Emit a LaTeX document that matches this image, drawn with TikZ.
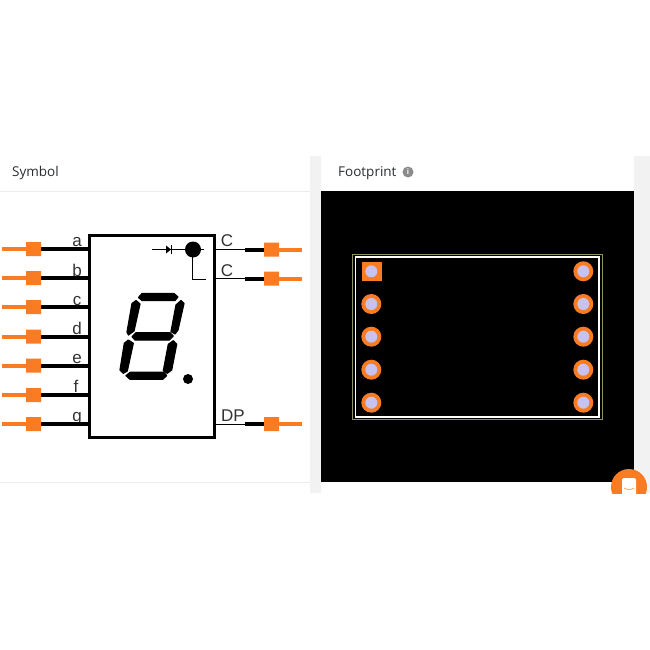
\documentclass[tikz,border=0pt]{standalone}
\usepackage{fontspec}
\setmainfont{Liberation Sans}
\newfontfamily\headfont{Open Sans}
\definecolor{pinorange}{HTML}{F97B22}
\definecolor{holeblue}{HTML}{C8C2F0}
\definecolor{panelgray}{HTML}{F2F2F2}
\definecolor{rulegray}{HTML}{ECECEC}
\definecolor{silkolive}{HTML}{8A9460}
\definecolor{headtext}{HTML}{2A2E33}
\tikzset{
	pinlabel/.style={anchor=base, text=black!80, font=\fontsize{17}{17}\selectfont, inner sep=0pt},
	headlabel/.style={anchor=base west, text=headtext, font=\headfont\fontsize{13.5}{13.5}\selectfont, inner sep=0pt},
	lead/.style={line width=4pt, black},
	tail/.style={line width=4pt, pinorange},
	pad/.style={fill=pinorange, draw=none},
	hole/.style={fill=holeblue, draw=none},
	segment/.style={fill=black, draw=black, line width=1.2pt, line join=round}
}
\begin{document}
\begin{tikzpicture}[x=1pt, y=-1pt]
	\useasboundingbox (0,0) rectangle (650,650);
	% page and panels
	\fill [white] (0,0) rectangle (650,650);
	\fill [panelgray] (310,156) rectangle (321,493) (634,156) rectangle (650,493);
	\draw [rulegray, line width=0.8pt] (0,191.5)--(310,191.5) (0,482.5)--(310,482.5);
	\node [headlabel] (symbolhead) at (12,176) {Symbol};
	\node [headlabel] (footprinthead) at (338,176) {Footprint};
	\fill [black!45] (408,172) circle (5.5);
	\node [anchor=center, text=white, font=\bfseries\fontsize{8}{8}\selectfont, inner sep=0pt] (infomark) at (408,172) {i};

	% symbol labels
	\node [pinlabel] (labela) at (77,246.7) {a};
	\node [pinlabel] (labelb) at (77,276) {b};
	\node [pinlabel] (labelc) at (77,305) {c};
	\node [pinlabel] (labeld) at (77,334) {d};
	\node [pinlabel] (labele) at (77,363) {e};
	\node [pinlabel] (labelf) at (76,392) {f};
	\node [pinlabel] (labelg) at (77,421) {g};
	\node [pinlabel] (labelca) at (227,246.7) {C};
	\node [pinlabel] (labelcb) at (227,276) {C};
	\node [pinlabel, anchor=base west] (labeldp) at (221,421.5) {DP};

	% symbol pins
	\draw [lead] (41,249)--(90,249) (41,278)--(90,278) (41,307)--(90,307) (41,336.5)--(90,336.5)
				 (41,365.5)--(90,365.5) (41,395)--(90,395) (41,424)--(90,424)
				 (245,249.5)--(264,249.5) (245,278.5)--(264,278.5) (245,424)--(264,424);
	\draw [line width=1pt] (214,249.5)--(245,249.5) (214,278.5)--(245,278.5) (214,424)--(245,424);
	\draw [tail] (2,249)--(27,249) (2,278)--(27,278) (2,307)--(27,307) (2,336.5)--(27,336.5)
				 (2,365.5)--(27,365.5) (2,395)--(27,395) (2,424)--(27,424)
				 (278,249.5)--(302,249.5) (278,278.5)--(302,278.5) (278,424)--(302,424);
	\fill [pinorange] (26,242) rectangle (41,256) (26,271) rectangle (41,285) (26,300) rectangle (41,314)
					  (26,329.5) rectangle (41,343.5) (26,358.5) rectangle (41,372.5)
					  (26,388) rectangle (41,402) (26,417) rectangle (41,431)
					  (264,242.5) rectangle (279,256.5) (264,271.5) rectangle (279,285.5)
					  (264,417) rectangle (279,431);

	% symbol body
	\draw [line width=3.4pt] (89.5,235.5) rectangle (214.5,437.5);
	\draw [line width=0.8pt] (152,249.5)--(204,249.5) (192,249.5)--(192,279)--(206,279);
	\fill (166,245.5)--(171,249.5)--(166,253.5)--cycle;
	\draw [line width=1pt] (171,245)--(171,254);
	\fill (193,249.5) circle (8);

	% digit
	\fill [segment] (138.5,297.5)--(142,293.5)--(174,293.5)--(178,297)--(175,300.5)--(142,300.5)--cycle;
	\fill [segment] (136,300.5)--(140,304)--(134,331)--(128.5,335)--(127,332)--(132,303.5)--cycle;
	\fill [segment] (181,300.5)--(184,303.5)--(178,330)--(175,334)--(171,331.5)--(176,305)--cycle;
	\fill [segment] (132,336.7)--(136,332.7)--(170,332.7)--(173.3,336)--(169.3,340)--(135,340)--cycle;
	\fill [segment] (128.3,340)--(133.3,343.3)--(127.3,371)--(123.3,373.3)--(120,370)--(124.3,343.3)--cycle;
	\fill [segment] (173.3,340.7)--(176.7,344.3)--(171.7,370)--(167.3,373.3)--(163.3,370.7)--(168.3,344.3)--cycle;
	\fill [segment] (126,375.7)--(130,372.3)--(164,372.3)--(166.7,375.7)--(162.7,379.3)--(130,379.3)--cycle;
	\fill (188,379) circle (5);

	% footprint
	\fill [black] (321,191) rectangle (634,482);
	\draw [silkolive, line width=0.8pt] (352.5,254) rectangle (602.5,419.5);
	\draw [white, line width=1.7pt] (355.5,257) rectangle (599,417);
	\fill [pad] (361.5,261.5) rectangle (381.5,281);
	\fill [pad] (371.3,304) circle (10) (371.3,336.7) circle (10) (371.3,369.7) circle (10) (371.3,402.7) circle (10)
				(583.3,271.3) circle (10) (583.3,304) circle (10) (583.3,336.7) circle (10)
				(583.3,369.7) circle (10) (583.3,402.7) circle (10);
	\fill [hole] (371.3,271.3) circle (6) (371.3,304) circle (6) (371.3,336.7) circle (6) (371.3,369.7) circle (6)
				 (371.3,402.7) circle (6) (583.3,271.3) circle (6) (583.3,304) circle (6)
				 (583.3,336.7) circle (6) (583.3,369.7) circle (6) (583.3,402.7) circle (6);

	% chat button
	\begin{scope}
		\clip (600,460) rectangle (650,493.5);
		\fill [pinorange] (629,487) circle (18);
		\fill [white, rounded corners=2pt] (622,478) rectangle (636,500);
		\draw [pinorange!70, line width=0.8pt] (624,488) .. controls (627,490) and (631,490) .. (634,488);
	\end{scope}
\end{tikzpicture}
\end{document}
